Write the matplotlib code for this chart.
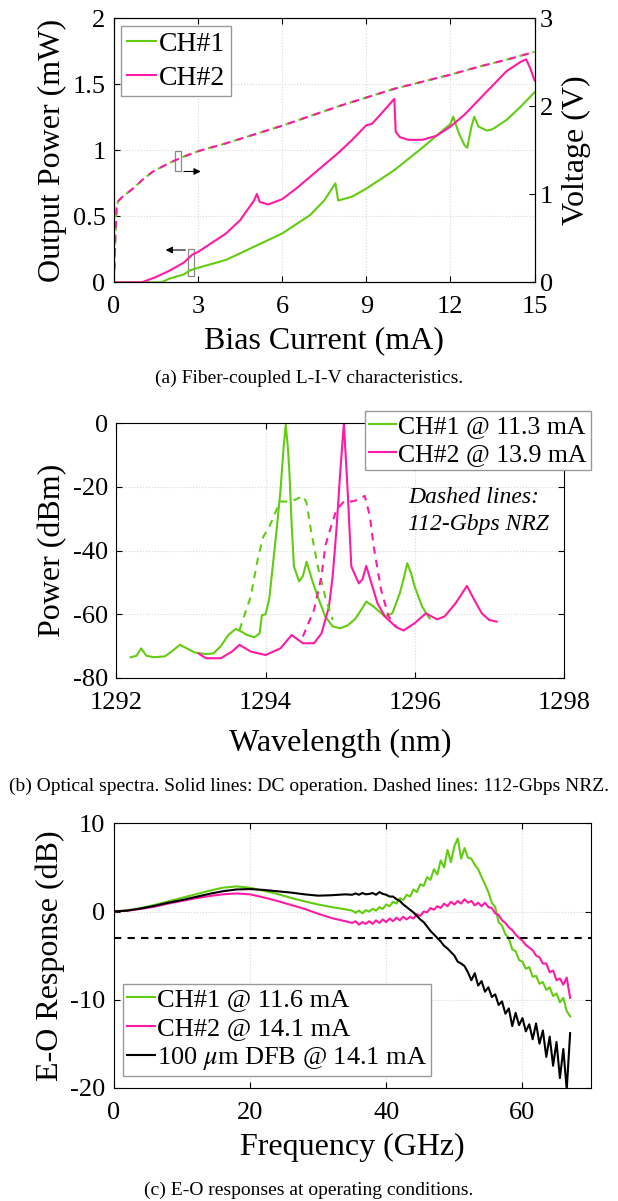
import matplotlib
matplotlib.use("Agg")
import matplotlib.pyplot as plt
from matplotlib.patches import Rectangle

plt.rcParams['font.family'] = ['Liberation Serif', 'DejaVu Serif']
plt.rcParams['mathtext.fontset'] = 'stix'
plt.rcParams['axes.unicode_minus'] = False
plt.rcParams['xtick.direction'] = 'in'
plt.rcParams['ytick.direction'] = 'in'

GREEN = '#62cc10'
PINK = '#ff1aa6'

# ---- (a) L-I-V ----
i_ch1 = [0, 1.7, 2.0, 2.5, 2.7, 3.0, 4.0, 5.0, 6.0, 7.0, 7.5, 7.9, 8.0, 8.5, 9.0, 10.0,
         11.0, 12.0, 12.1, 12.3, 12.5, 12.6, 12.75, 12.85, 13.0, 13.3, 13.5, 14.0, 14.5, 15.0]
p_ch1 = [0, 0, 0.03, 0.06, 0.09, 0.11, 0.17, 0.27, 0.37, 0.51, 0.62, 0.75, 0.62, 0.65, 0.71, 0.85,
         1.02, 1.20, 1.255, 1.13, 1.04, 1.02, 1.18, 1.255, 1.18, 1.15, 1.16, 1.23, 1.33, 1.44]
i_ch2 = [0, 1.0, 1.5, 2.0, 2.5, 2.8, 3.0, 3.5, 4.0, 4.5, 5.0, 5.1, 5.2, 5.5, 6.0, 6.5, 7.0,
         7.5, 8.0, 8.5, 9.0, 9.2, 9.5, 10.0, 10.05, 10.2, 10.5, 11.0, 11.5, 12.0, 12.5, 13.0,
         13.5, 14.0, 14.5, 14.7, 14.85, 15.0]
p_ch2 = [0, 0, 0.04, 0.09, 0.15, 0.21, 0.23, 0.30, 0.37, 0.47, 0.62, 0.67, 0.61, 0.59, 0.63,
         0.71, 0.80, 0.89, 0.98, 1.08, 1.19, 1.20, 1.27, 1.39, 1.14, 1.10, 1.08, 1.08, 1.11,
         1.18, 1.27, 1.38, 1.49, 1.60, 1.67, 1.69, 1.62, 1.53]
i_volt = [0, 0.03, 0.06, 0.1, 0.15, 0.3, 0.7, 1.0, 1.4, 2.0, 2.5, 3.0, 4.0, 5.0, 6.0, 7.0,
          8.0, 9.0, 10.0, 11.0, 12.0, 13.0, 14.0, 15.0]
volt = [0, 0.2, 0.55, 0.85, 0.92, 0.97, 1.07, 1.16, 1.26, 1.36, 1.43, 1.49, 1.58, 1.68,
        1.78, 1.89, 2.0, 2.1, 2.2, 2.28, 2.36, 2.45, 2.53, 2.62]

# ---- (b) optical spectra ----
wl1 = [1292.19, 1292.27, 1292.33, 1292.4, 1292.5, 1292.65, 1292.75, 1292.85, 1292.95, 1293.05,
       1293.2, 1293.3, 1293.4, 1293.5, 1293.6, 1293.68, 1293.75, 1293.85, 1293.92, 1293.95,
       1294.0, 1294.05, 1294.1, 1294.15, 1294.2, 1294.24, 1294.27, 1294.3, 1294.32, 1294.35,
       1294.38, 1294.45, 1294.5, 1294.55, 1294.62, 1294.7, 1294.8, 1294.9, 1295.0, 1295.1,
       1295.2, 1295.3, 1295.35, 1295.45, 1295.6, 1295.7, 1295.8, 1295.85, 1295.9, 1295.95,
       1296.0, 1296.1, 1296.2]
pw1 = [-73.5, -73.0, -70.7, -73.0, -73.5, -73.2, -71.5, -69.6, -70.8, -72.0,
       -72.5, -72.3, -70.0, -66.5, -64.6, -65.5, -66.5, -67.2, -66.0, -60.3,
       -60.0, -55.0, -44.0, -33.0, -21.0, -8.0, -0.5, -8.0, -15.7, -32.0,
       -45.0, -49.7, -48.0, -43.5, -49.0, -54.5, -60.7, -63.8, -64.4, -63.5,
       -61.5, -58.0, -56.0, -57.6, -60.7, -59.7, -53.4, -49.0, -44.0, -47.0,
       -51.3, -57.6, -61.3]
wl1_nrz = [1293.65, 1293.72, 1293.8, 1293.9, 1293.97, 1294.05, 1294.15, 1294.2, 1294.3, 1294.4,
           1294.5, 1294.55, 1294.6, 1294.7, 1294.8, 1294.9]
pw1_nrz = [-65.0, -60.0, -54.5, -42.0, -35.6, -32.5, -27.0, -24.6, -24.6, -24.0,
           -22.8, -25.0, -32.5, -45.0, -54.5, -61.8]
wl2 = [1293.1, 1293.2, 1293.4, 1293.55, 1293.65, 1293.8, 1294.0, 1294.2, 1294.35, 1294.5,
       1294.65, 1294.75, 1294.85, 1294.9, 1294.95, 1295.0, 1295.05, 1295.1, 1295.15, 1295.25,
       1295.3, 1295.35, 1295.42, 1295.5, 1295.6, 1295.75, 1295.85, 1296.0, 1296.15, 1296.3,
       1296.4, 1296.55, 1296.7, 1296.8, 1296.9, 1297.0, 1297.1]
pw2 = [-72.3, -73.8, -73.8, -71.7, -69.6, -71.7, -72.8, -70.7, -66.5, -69.1,
       -69.1, -66.0, -57.6, -48.0, -33.5, -15.7, 0.0, -21.0, -45.0, -50.3,
       -49.0, -44.8, -50.3, -56.5, -60.7, -64.0, -65.1, -62.8, -59.7, -61.6,
       -60.7, -56.5, -51.1, -55.5, -59.7, -61.8, -62.3]
wl2_nrz = [1294.5, 1294.65, 1294.75, 1294.8, 1294.85, 1294.95, 1295.05, 1295.15, 1295.25, 1295.33,
           1295.4, 1295.45, 1295.55, 1295.65, 1295.75]
pw2_nrz = [-67.0, -58.6, -48.0, -38.7, -34.5, -27.2, -24.6, -24.6, -24.0, -22.8,
           -29.3, -38.7, -52.4, -60.7, -63.9]

# ---- (c) E-O response ----
freq = [0, 2, 4, 6, 8, 10, 12, 14, 16, 18, 20, 22, 24, 26, 28, 30, 32, 34,
        35, 35.5, 36, 36.5, 37, 37.5, 38, 38.5, 39, 39.5, 40, 40.5, 41, 41.5, 42, 42.5,
        43, 43.5, 44, 44.5, 45, 45.5, 46, 46.5, 47, 47.5, 48, 48.5, 49, 49.5, 50, 50.5,
        51, 51.5, 52, 52.5, 53, 53.5, 54, 54.5, 55, 55.5, 56, 56.5, 57, 57.5, 58, 58.5,
        59, 59.5, 60, 60.5, 61, 61.5, 62, 62.5, 63, 63.5, 64, 64.5, 65, 65.5, 66, 66.5, 67]
eo_ch1 = [0, 0.15, 0.4, 0.75, 1.15, 1.55, 1.95, 2.35, 2.7, 2.85, 2.7, 2.35, 2.0, 1.55, 1.15, 0.8, 0.5, 0.25,
          0.1, -0.15, 0.1, -0.2, 0.15, 0.0, 0.3, 0.1, 0.5, 0.3, 0.8, 0.6, 1.1, 0.9, 1.5, 1.3,
          1.9, 1.7, 2.5, 2.2, 3.1, 2.9, 3.9, 3.6, 4.8, 4.2, 5.8, 5.0, 7.0, 5.6, 7.4, 8.3,
          6.0, 7.2, 6.1, 6.0, 5.3, 4.8, 3.9, 3.1, 2.2, 1.0, 0.5, -1.2, -1.6, -2.6, -3.0, -4.3,
          -4.5, -5.5, -5.7, -6.5, -6.3, -7.4, -7.3, -8.2, -8.0, -8.9, -8.6, -9.6, -9.3, -10.3, -9.8, -11.3, -11.9]
eo_ch2 = [0, 0.1, 0.3, 0.55, 0.9, 1.2, 1.5, 1.75, 1.95, 2.05, 1.95, 1.6, 1.2, 0.75, 0.3, -0.25, -0.75, -1.1,
          -1.3, -1.1, -1.5, -1.2, -1.4, -1.1, -1.4, -1.0, -1.3, -0.9, -1.2, -0.8, -1.1, -0.7, -1.0, -0.6,
          -0.9, -0.6, -0.8, -0.3, -0.5, 0.0, -0.1, 0.4, 0.2, 0.6, 0.4, 0.9, 0.6, 1.1, 0.8, 1.2,
          0.9, 1.4, 1.0, 1.2, 0.7, 1.0, 0.6, 1.0, 0.5, 0.4, -0.2, -0.4, -1.0, -1.3, -1.8, -2.1,
          -2.6, -3.0, -3.3, -3.8, -4.1, -4.4, -5.0, -5.2, -5.9, -5.9, -6.9, -6.7, -7.8, -7.6, -8.3, -7.5, -9.8]
eo_dfb = [0, 0.1, 0.35, 0.65, 1.0, 1.3, 1.65, 2.0, 2.3, 2.5, 2.55, 2.45, 2.3, 2.15, 1.95, 1.8, 1.85, 1.95,
          1.9, 2.05, 1.9, 2.1, 1.95, 2.0, 2.1, 1.9, 2.2, 2.0, 1.9, 1.7, 1.7, 1.4, 1.2, 0.8,
          0.5, 0.2, -0.1, -0.5, -0.9, -1.2, -1.7, -2.2, -2.6, -3.0, -3.4, -3.9, -4.2, -4.6, -5.0, -5.7,
          -5.9, -6.2, -6.9, -7.8, -7.0, -8.4, -7.9, -9.1, -8.6, -9.7, -9.4, -10.6, -10.2, -11.6, -11.0, -13.0,
          -11.5, -12.9, -12.1, -13.6, -12.8, -14.5, -12.7, -15.0, -13.5, -16.5, -14.2, -17.5, -14.8, -18.9, -15.6, -20.2, -13.8]

fig = plt.figure(figsize=(6.18, 12.01), dpi=100)
tick_fs = 19
lab_fs = 23
leg_fs = 19
dash = (0, (3.5, 3))
grid_kw = dict(color='#d8d8d8', linestyle=':', linewidth=0.8)
leg_kw = dict(fancybox=False, edgecolor='#999999', framealpha=1, borderaxespad=0,
              handlelength=1.05, handletextpad=0.1, borderpad=0.15, labelspacing=0.2)

# (a)
ax1 = fig.add_axes([0.1841, 0.7649, 0.6809, 0.2198])
ax1.grid(True, **grid_kw)
ax1.plot(i_ch1, p_ch1, color=GREEN, lw=1.5, label='CH#1')
ax1.plot(i_ch2, p_ch2, color=PINK, lw=1.5, label='CH#2')
ax1.set_xlim(0, 15)
ax1.set_ylim(0, 2)
ax1.set_xticks([0, 3, 6, 9, 12, 15])
ax1.set_yticks([0, 0.5, 1, 1.5, 2])
ax1.set_yticklabels(['0', '0.5', '1', '1.5', '2'])
ax1.tick_params(labelsize=tick_fs, top=True, right=False, length=4, pad=6)
ax1.tick_params(axis='x', pad=10)
ax1.set_xlabel('Bias Current (mA)', fontsize=lab_fs, labelpad=6)
ax1.set_ylabel('Output Power (mW)', fontsize=lab_fs, labelpad=4)
ax1.add_patch(Rectangle((2.19, 0.84), 0.21, 0.155, fill=False, edgecolor='#888888', lw=0.9))
ax1.annotate('', xy=(3.2, 0.84), xytext=(2.4, 0.84),
             arrowprops=dict(arrowstyle='-|>', color='black', lw=0.8, mutation_scale=10))
ax1.add_patch(Rectangle((2.65, 0.05), 0.21, 0.2, fill=False, edgecolor='#888888', lw=0.9))
ax1.annotate('', xy=(1.75, 0.245), xytext=(2.65, 0.245),
             arrowprops=dict(arrowstyle='-|>', color='black', lw=0.8, mutation_scale=10))
leg_a = dict(leg_kw, labelspacing=0.3, borderpad=0.2)
ax1.legend(loc='upper left', bbox_to_anchor=(0.018, 0.971), fontsize=20, **leg_a)

ax1r = ax1.twinx()
ax1r.plot(i_volt, volt, color=GREEN, lw=1.5, linestyle=(1.2, (3.5, 3)))
ax1r.plot(i_volt, volt, color=PINK, lw=1.5, linestyle=dash)
ax1r.set_ylim(0, 3)
ax1r.set_yticks([0, 1, 2, 3])
ax1r.tick_params(labelsize=tick_fs, length=4, pad=4)
ax1r.set_ylabel('Voltage (V)', fontsize=lab_fs, labelpad=6)

# (b)
ax2 = fig.add_axes([0.1885, 0.4355, 0.7238, 0.2121])
ax2.grid(True, **grid_kw)
ax2.plot(wl1, pw1, color=GREEN, lw=1.5, label='CH#1 @ 11.3 mA')
ax2.plot(wl2, pw2, color=PINK, lw=1.5, label='CH#2 @ 13.9 mA')
ax2.plot(wl1_nrz, pw1_nrz, color=GREEN, lw=1.5, linestyle=dash)
ax2.plot(wl2_nrz, pw2_nrz, color=PINK, lw=1.5, linestyle=dash)
ax2.set_xlim(1292, 1298)
ax2.set_ylim(-80, 0)
ax2.set_xticks([1292, 1294, 1296, 1298])
ax2.set_yticks([-80, -60, -40, -20, 0])
ax2.tick_params(labelsize=tick_fs, top=True, right=True, length=4, pad=6)
ax2.tick_params(axis='x', pad=10)
ax2.set_xlabel('Wavelength (nm)', fontsize=lab_fs, labelpad=11)
ax2.set_ylabel('Power (dBm)', fontsize=lab_fs, labelpad=4)
ax2.text(0.652, 0.655, 'Dashed lines:\n112-Gbps NRZ', transform=ax2.transAxes, fontsize=17,
         style='italic', ha='left', va='center', linespacing=1.35)
ax2.legend(loc='upper right', bbox_to_anchor=(1.06, 1.049), fontsize=18.5, **leg_kw)

# (c)
ax3 = fig.add_axes([0.1841, 0.0943, 0.7715, 0.2201])
ax3.grid(True, **grid_kw)
ax3.plot(freq, eo_ch1, color=GREEN, lw=1.5, label='CH#1 @ 11.6 mA')
ax3.plot(freq, eo_ch2, color=PINK, lw=1.5, label='CH#2 @ 14.1 mA')
ax3.plot(freq, eo_dfb, color='black', lw=1.5, label='100 $\\mu$m DFB @ 14.1 mA')
ax3.axhline(-3, color='black', lw=1.5, linestyle=dash)
ax3.set_xlim(0, 70)
ax3.set_ylim(-20, 10)
ax3.set_xticks([0, 20, 40, 60])
ax3.set_yticks([-20, -10, 0, 10])
ax3.tick_params(labelsize=tick_fs, top=True, right=True, length=4, pad=6)
ax3.tick_params(axis='x', pad=10)
ax3.set_xlabel('Frequency (GHz)', fontsize=lab_fs, labelpad=7)
ax3.set_ylabel('E-O Response (dB)', fontsize=lab_fs, labelpad=4)
ax3.legend(loc='lower left', bbox_to_anchor=(0.0197, 0.044), fontsize=leg_fs, **leg_kw)

cap_fs = 14
fig.text(0.5, 1 - 378 / 1201, '(a) Fiber-coupled L-I-V characteristics.', ha='center', va='center', fontsize=cap_fs)
fig.text(0.5, 1 - 786 / 1201, '(b) Optical spectra. Solid lines: DC operation. Dashed lines: 112-Gbps NRZ.',
         ha='center', va='center', fontsize=cap_fs)
fig.text(0.5, 1 - 1190 / 1201, '(c) E-O responses at operating conditions.', ha='center', va='center', fontsize=cap_fs)

fig.savefig('out.png', dpi=100)
